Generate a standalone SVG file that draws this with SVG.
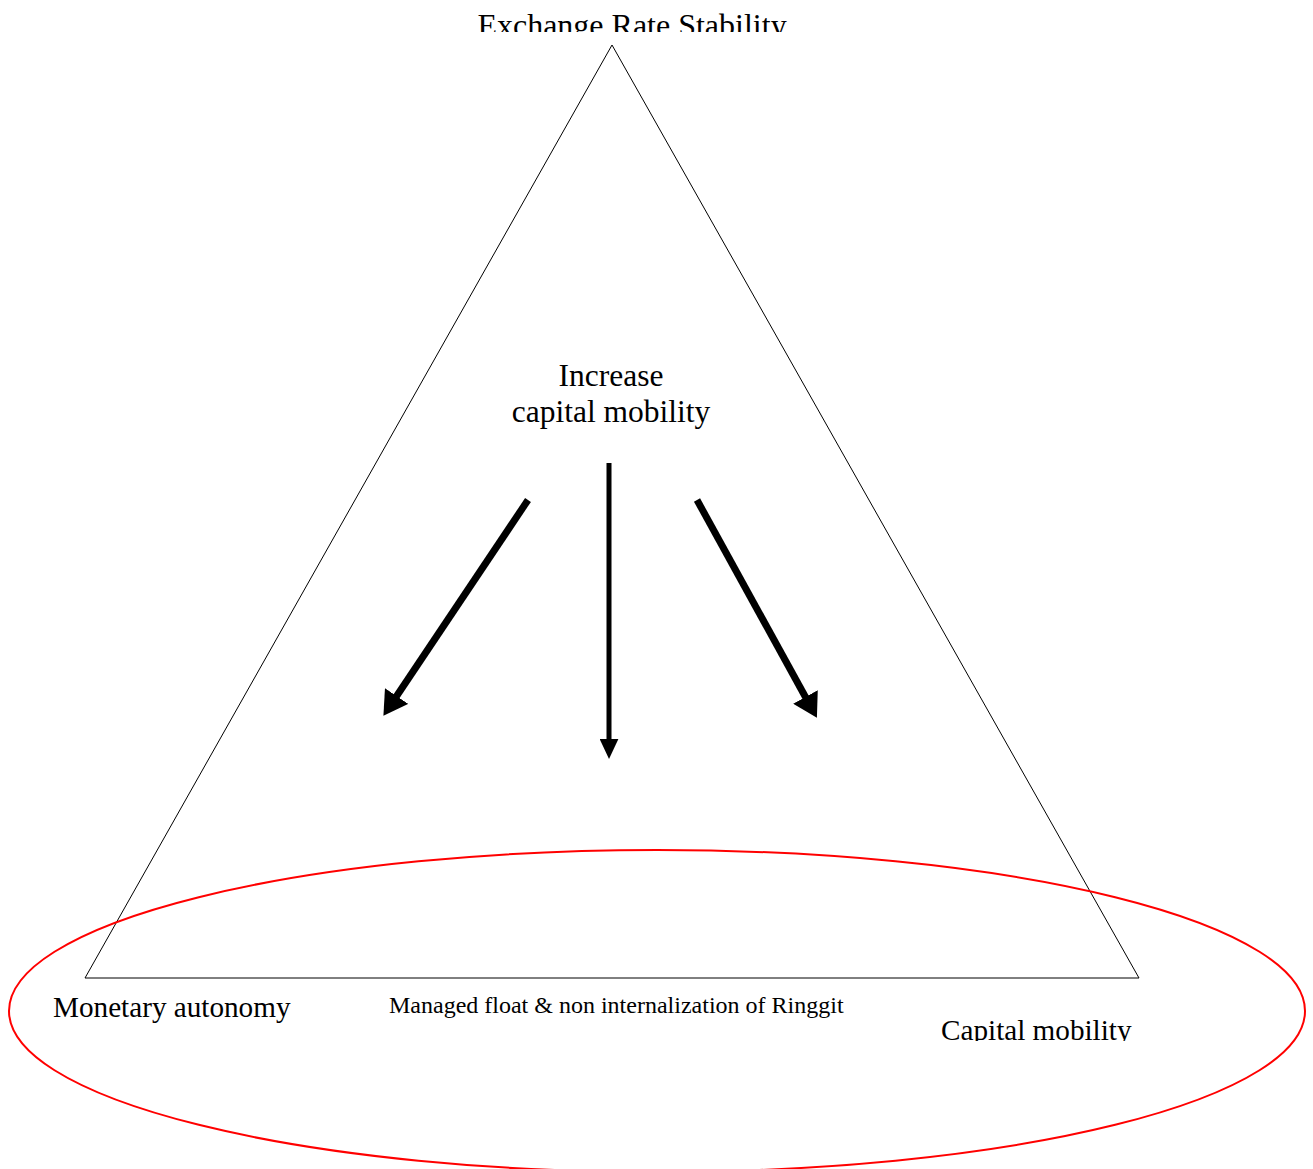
<svg xmlns="http://www.w3.org/2000/svg" width="1313" height="1169" viewBox="0 0 1313 1169">
<style>
.lbl{font-family:"Liberation Serif","Times New Roman",serif;fill:#000}
.arrow{stroke:#000;fill:none;stroke-linecap:butt}
</style>
<defs>
<marker id="headBig" markerUnits="userSpaceOnUse" markerWidth="24" markerHeight="28" viewBox="0 0 22 26" refX="1" refY="13" orient="auto">
<path d="M0,0 L22,13 L0,26 z" fill="#000"/>
</marker>
<marker id="headSmall" markerUnits="userSpaceOnUse" markerWidth="20" markerHeight="19" viewBox="0 0 18 17" refX="1" refY="8.5" orient="auto">
<path d="M0,0 L18,8.5 L0,17 z" fill="#000"/>
</marker>
<clipPath id="clipTop"><rect x="0" y="0" width="1313" height="32"/></clipPath>
<clipPath id="clipCap"><rect x="900" y="990" width="300" height="51"/></clipPath>
</defs>
<rect width="1313" height="1169" fill="#fff"/>
<g id="triangle">
<polygon points="612,45 85,978 1139,978" fill="none" stroke="#000" stroke-width="1"/>
</g>
<g id="ellipse">
<ellipse cx="657" cy="1011" rx="648" ry="161" fill="none" stroke="#f00" stroke-width="2"/>
</g>
<g id="node-exchange">
<text class="lbl" x="632" y="36" font-size="32" text-anchor="middle" clip-path="url(#clipTop)">Exchange Rate Stability</text>
</g>
<g id="node-increase">
<text class="lbl" x="611" y="386" font-size="31.5" text-anchor="middle">Increase</text>
<text class="lbl" x="611" y="422" font-size="31.5" text-anchor="middle">capital mobility</text>
</g>
<g id="node-monetary">
<text class="lbl" x="53" y="1017" font-size="29.2">Monetary autonomy</text>
</g>
<g id="node-managed">
<text class="lbl" x="389" y="1013" font-size="24">Managed float &amp; non internalization of Ringgit</text>
</g>
<g id="node-capital">
<text class="lbl" x="941" y="1039.5" font-size="29.2" clip-path="url(#clipCap)">Capital mobility</text>
</g>
<g id="connectors">
<line class="arrow" x1="528" y1="500" x2="396" y2="697" stroke-width="7" marker-end="url(#headBig)"/>
<line class="arrow" x1="609" y1="463" x2="609" y2="740" stroke-width="5" marker-end="url(#headSmall)"/>
<line class="arrow" x1="697" y1="500" x2="806" y2="698" stroke-width="7" marker-end="url(#headBig)"/>
</g>
</svg>
